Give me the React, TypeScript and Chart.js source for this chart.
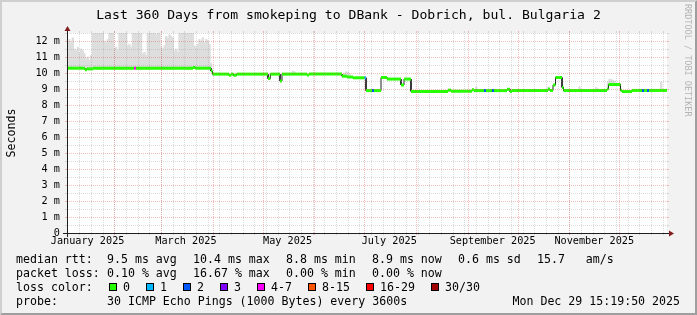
import React, { useEffect, useRef } from 'react';
import { Chart, registerables } from 'chart.js';

Chart.register(...registerables);

// ---------- canvas / text ----------
const W = 697;
const H = 315;
const MONO = 'DejaVu Sans Mono';
const TITLE = 'Last 360 Days from smokeping to DBank - Dobrich, bul. Bulgaria 2';
const Y_UNIT = 'Seconds';
const WATERMARK = 'RRDTOOL / TOBI OETIKER';

// ---------- time axis (days since graph start, Fri 3 Jan 2025 15:20) ----------
const START_MS = Date.UTC(2025, 0, 3, 15, 20);
const RANGE_DAYS = 360;
const X_LABEL_MONTHS = [0, 2, 4, 6, 8, 10];
const X_LABELS = ['January 2025', 'March 2025', 'May 2025', 'July 2025', 'September 2025', 'November 2025'];
const MAJOR_GRID_MONTHS = [1, 2, 3, 4, 5, 6, 7, 8, 9, 10, 11];
const FIRST_WEEK_LINE = [2025, 0, 11];

// ---------- y axis ----------
const Y_MAX = 12.5;
const Y_TICKS = [0, 1, 2, 3, 4, 5, 6, 7, 8, 9, 10, 11, 12];

// ---------- median rtt (ms), piecewise: segment start day, value, loss class ----------
const MEDIAN_START = [0, 10.8, 11.8, 15.6, 40.2, 41.4, 75.6, 77, 86.4, 87.3,
  97.2, 98.4, 99.9, 101.7, 120.6, 122, 127.8, 129, 144, 145.2,
  165, 168, 171.6, 178.5, 179.4, 183, 184.2, 188.4, 192, 200.4,
  202.2, 206.4, 228.6, 230.4, 243, 244.2, 250.2, 251.4, 255, 256.2,
  264, 265.8, 267, 288.6, 289.8, 291.6, 293.1, 297, 297.9, 324,
  324.9, 332.1, 333, 339, 345, 346.2, 348, 349.2];
const MEDIAN_MS = [10.30, 10.20, 10.26, 10.30, 10.30, 10.30, 10.34, 10.30, 10.12, 9.93,
  9.86, 9.93, 9.86, 9.93, 9.65, 9.93, 9.50, 9.93, 9.87, 9.93,
  9.80, 9.75, 9.70, 9.70, 8.90, 8.90, 8.90, 9.72, 9.62, 9.25,
  9.62, 8.85, 8.93, 8.86, 8.95, 8.90, 8.90, 8.90, 8.90, 8.90,
  8.98, 8.84, 8.91, 9.00, 8.91, 9.25, 9.72, 9.10, 8.91, 9.00,
  9.28, 8.92, 8.84, 8.91, 8.91, 8.91, 8.91, 8.91];
const MEDIAN_LOSS = [0, 0, 0, 0, 4, 0, 0, 0, 0, 0,
  0, 0, 0, 0, 0, 0, 0, 0, 0, 0,
  0, 0, 0, 1, 0, 2, 0, 0, 0, 0,
  0, 0, 0, 0, 0, 0, 2, 0, 2, 0,
  0, 0, 0, 0, 0, 0, 0, 0, 0, 0,
  0, 0, 0, 0, 2, 0, 2, 0];

// ---------- smoke (ms, upper edge of the ping spread), per day ----------
const SMOKE_Q1_TOP = [12.0, 12.1, 11.9, 12.2, 11.5, 11.4, 11.6, 11.3, 11.5, 11.4,
  11.2, 10.9, 11.0, 10.8, 11.1, 12.8, 13.0, 12.7, 13.0, 12.9,
  13.0, 12.8, 12.0, 11.9, 12.1, 13.0, 12.8, 13.0, 11.5, 11.6,
  11.4, 13.0, 12.9, 13.0, 12.6, 13.0, 11.7, 11.8, 11.6, 13.0,
  12.8, 13.0, 12.7, 13.0, 12.9, 11.2, 11.3, 11.1, 12.9, 13.0,
  12.6, 12.8, 13.0, 12.4, 13.0, 12.9, 11.6, 11.5, 11.7, 12.3,
  12.2, 12.4, 12.3, 12.2, 11.4, 11.5, 11.3, 13.0, 12.8, 13.0,
  12.9, 13.0, 12.7, 13.0, 12.9, 13.0, 11.7, 11.6, 11.8, 12.1,
  12.0, 12.2, 11.9, 12.1, 12.0, 11.8, 10.6];
const SMOKE_EXTRA_DAY = [135, 136, 166, 167, 168, 169, 245, 288, 307, 317, 318, 324, 325, 326, 327, 328, 356];
const SMOKE_EXTRA_TOP = [10.12, 10.08, 10.0, 10.08, 10.05, 9.95, 9.12, 9.1, 9.15, 9.1, 9.02, 9.45, 9.62, 9.6, 9.55, 9.5, 9.45];

// ---------- legend ----------
const ROW_LABELS = ['median rtt:', 'packet loss:', 'loss color:', 'probe:'];
const RTT_STATS = ['9.5 ms avg', '10.4 ms max', '8.8 ms min', '8.9 ms now', '0.6 ms sd', '15.7   am/s'];
const LOSS_STATS = ['0.10 % avg', '16.67 % max', '0.00 % min', '0.00 % now'];
const LOSS_LABELS = ['0', '1', '2', '3', '4-7', '8-15', '16-29', '30/30'];
const LOSS_COLORS = ['#26ff00', '#00b8ff', '#0059ff', '#7e00ff', '#ff00ff', '#ff5500', '#ff0000', '#a00000'];
const PROBE_TEXT = '30 ICMP Echo Pings (1000 Bytes) every 3600s';
const TIMESTAMP = 'Mon Dec 29 15:19:50 2025';

// layout of legend items (px)
const STAT_X = [107, 193, 286, 372, 458, 537];
const SWATCH_X = [109, 146, 183, 220, 257, 308, 366, 431];
const ROW_BASE = [263, 277, 291, 305];

const dayOf = (y: number, m: number, d: number) => (Date.UTC(y, m, d) - START_MS) / 86400000;

function medianAt(t: number) {
  let v = MEDIAN_MS[0];
  for (let i = 0; i < MEDIAN_START.length; i++) if (MEDIAN_START[i] <= t) v = MEDIAN_MS[i];
  return v;
}

function buildMedianPoints() {
  const pts: { x: number; y: number }[] = [];
  for (let i = 0; i < MEDIAN_START.length; i++) {
    const end = i + 1 < MEDIAN_START.length ? MEDIAN_START[i + 1] : RANGE_DAYS;
    pts.push({ x: MEDIAN_START[i], y: MEDIAN_MS[i] });
    pts.push({ x: end, y: MEDIAN_MS[i] });
  }
  return pts;
}

function buildSmoke() {
  const bars: { x: number; y: [number, number] }[] = [];
  SMOKE_Q1_TOP.forEach((top, d) => bars.push({ x: d + 0.5, y: [medianAt(d + 0.5), top] }));
  SMOKE_EXTRA_DAY.forEach((d, i) => bars.push({ x: d + 0.5, y: [medianAt(d + 0.5), SMOKE_EXTRA_TOP[i]] }));
  return bars;
}

const rrdPlugin = {
  id: 'rrdLook',
  beforeDraw(chart: any) {
    const { ctx, chartArea: a } = chart;
    ctx.save();
    ctx.fillStyle = '#f2f2f2';
    ctx.fillRect(0, 0, W, H);
    ctx.fillStyle = '#cfcfcf';
    ctx.beginPath();
    ctx.moveTo(0, H); ctx.lineTo(2, H - 2); ctx.lineTo(2, 2); ctx.lineTo(W - 2, 2); ctx.lineTo(W, 0); ctx.lineTo(0, 0);
    ctx.closePath(); ctx.fill();
    ctx.fillStyle = '#9e9e9e';
    ctx.beginPath();
    ctx.moveTo(2, H - 2); ctx.lineTo(W - 2, H - 2); ctx.lineTo(W - 2, 2); ctx.lineTo(W, 0); ctx.lineTo(W, H); ctx.lineTo(0, H);
    ctx.closePath(); ctx.fill();
    ctx.fillStyle = '#ffffff';
    ctx.fillRect(a.left, a.top, a.right - a.left, a.bottom - a.top);
    ctx.restore();
  },
  afterDatasetsDraw(chart: any) {
    const { ctx, chartArea: a, scales } = chart;
    const xs = scales.x;
    const ys = scales.y;
    const X0 = a.left, X1 = a.right, Y0 = a.bottom, Y1 = a.top;
    const px = (v: number) => Math.round(xs.getPixelForValue(v)) + 0.5;
    const py = (v: number) => Math.round(ys.getPixelForValue(v)) + 0.5;
    const MINOR = 'rgba(143,143,143,0.32)';
    const MAJOR = 'rgba(222,79,79,0.38)';
    ctx.save();
    ctx.lineWidth = 1;
    const hLine = (yy: number, color: string) => {
      ctx.strokeStyle = color;
      ctx.setLineDash([]);
      ctx.beginPath();
      ctx.moveTo(X0 - 2, yy); ctx.lineTo(X0, yy);
      ctx.moveTo(X1, yy); ctx.lineTo(X1 + 2, yy);
      ctx.stroke();
      ctx.setLineDash([1, 1]);
      ctx.beginPath(); ctx.moveTo(X0, yy); ctx.lineTo(X1, yy); ctx.stroke();
    };
    const vLine = (xx: number, color: string) => {
      ctx.strokeStyle = color;
      ctx.setLineDash([]);
      ctx.beginPath();
      ctx.moveTo(xx, Y0); ctx.lineTo(xx, Y0 + 2);
      ctx.moveTo(xx, Y1); ctx.lineTo(xx, Y1 - 2);
      ctx.stroke();
      ctx.setLineDash([1, 1]);
      ctx.beginPath(); ctx.moveTo(xx, Y0); ctx.lineTo(xx, Y1); ctx.stroke();
    };
    // minor grid
    Y_TICKS.forEach((v) => { if (v + 0.5 <= Y_MAX) hLine(py(v + 0.5), MINOR); });
    const firstWeek = dayOf(FIRST_WEEK_LINE[0], FIRST_WEEK_LINE[1], FIRST_WEEK_LINE[2]);
    for (let t = firstWeek; t < RANGE_DAYS; t += 7) vLine(px(t), MINOR);
    // major grid
    Y_TICKS.forEach((v) => { if (v > 0) hLine(py(v), MAJOR); });
    MAJOR_GRID_MONTHS.forEach((m) => {
      const t = dayOf(2025, m, 1);
      if (t > 0 && t < RANGE_DAYS) vLine(px(t), MAJOR);
    });
    // axes
    ctx.setLineDash([]);
    ctx.strokeStyle = '#1f1f1f';
    ctx.beginPath();
    ctx.moveTo(X0 - 4, Y0 + 0.5); ctx.lineTo(X1 + 4, Y0 + 0.5);
    ctx.moveTo(X0 + 0.5, Y0 + 4); ctx.lineTo(X0 + 0.5, Y1 - 4);
    ctx.stroke();
    ctx.fillStyle = '#801f1f';
    ctx.beginPath();
    ctx.moveTo(X1 + 2, Y0 - 2.5); ctx.lineTo(X1 + 2, Y0 + 3.5); ctx.lineTo(X1 + 7, Y0 + 0.5);
    ctx.closePath(); ctx.fill();
    ctx.beginPath();
    ctx.moveTo(X0 - 2.5, Y1 - 2); ctx.lineTo(X0 + 3.5, Y1 - 2); ctx.lineTo(X0 + 0.5, Y1 - 7);
    ctx.closePath(); ctx.fill();
    ctx.restore();
  },
  afterDraw(chart: any) {
    const { ctx, chartArea: a } = chart;
    ctx.save();
    ctx.fillStyle = '#000';
    // title
    ctx.font = `13.1px "${MONO}"`;
    ctx.textAlign = 'center';
    ctx.textBaseline = 'alphabetic';
    ctx.fillText(TITLE, W / 2, 19);
    // unit label
    ctx.font = `11.6px "${MONO}"`;
    ctx.save();
    ctx.translate(15, (a.top + a.bottom) / 2);
    ctx.rotate(-Math.PI / 2);
    ctx.fillText(Y_UNIT, 0, 0);
    ctx.restore();
    // watermark
    ctx.save();
    ctx.fillStyle = '#b4b4b4';
    ctx.font = `8.5px "${MONO}"`;
    ctx.translate(685, 4);
    ctx.rotate(Math.PI / 2);
    ctx.textAlign = 'left';
    ctx.fillText(WATERMARK, 0, 0);
    ctx.restore();
    // legend
    ctx.font = `11.6px "${MONO}"`;
    ctx.textAlign = 'left';
    ctx.fillStyle = '#000';
    ROW_LABELS.forEach((s, i) => ctx.fillText(s, 16, ROW_BASE[i]));
    RTT_STATS.forEach((s, i) => ctx.fillText(s, STAT_X[i], ROW_BASE[0]));
    LOSS_STATS.forEach((s, i) => ctx.fillText(s, STAT_X[i], ROW_BASE[1]));
    LOSS_LABELS.forEach((s, i) => {
      const bx = SWATCH_X[i];
      const by = ROW_BASE[2] - 8;
      ctx.fillStyle = LOSS_COLORS[i];
      ctx.fillRect(bx, by, 8, 8);
      ctx.strokeStyle = '#000';
      ctx.lineWidth = 1;
      ctx.strokeRect(bx + 0.5, by + 0.5, 7, 7);
      ctx.fillStyle = '#000';
      ctx.fillText(s, bx + 14, ROW_BASE[2]);
    });
    ctx.fillText(PROBE_TEXT, STAT_X[0], ROW_BASE[3]);
    ctx.textAlign = 'right';
    ctx.fillText(TIMESTAMP, 680, ROW_BASE[3]);
    ctx.restore();
  },
};

export default function App() {
  const ref = useRef<HTMLCanvasElement>(null);
  useEffect(() => {
    const canvas = ref.current;
    if (!canvas) return;
    const medianPts = buildMedianPoints();
    const labelTicks = X_LABEL_MONTHS.map((m) => dayOf(2025, m, 1) + 15);
    const chart = new Chart(canvas, {
      type: 'line',
      data: {
        datasets: [
          {
            type: 'line',
            label: 'median (loss colored)',
            data: medianPts,
            borderWidth: 3,
            pointRadius: 0,
            borderCapStyle: 'butt',
            borderColor: LOSS_COLORS[0],
            segment: {
              borderColor: (c: any) =>
                c.p0.parsed.x === c.p1.parsed.x
                  ? 'rgba(0,0,0,0)'
                  : LOSS_COLORS[MEDIAN_LOSS[Math.floor(c.p0DataIndex / 2)]],
            },
            order: 1,
          } as any,
          {
            type: 'line',
            label: 'median',
            data: medianPts,
            borderWidth: 1,
            pointRadius: 0,
            borderColor: '#202020',
            order: 2,
          } as any,
          {
            type: 'bar',
            label: 'smoke',
            data: buildSmoke(),
            backgroundColor: '#dedede',
            borderWidth: 0,
            barPercentage: 1,
            categoryPercentage: 1,
            clip: 0,
            order: 3,
          } as any,
        ],
      },
      options: {
        animation: false,
        responsive: false,
        devicePixelRatio: 1,
        events: [],
        layout: { padding: { left: 0, top: 33, right: W - 667, bottom: 0 } },
        plugins: { legend: { display: false }, tooltip: { enabled: false }, title: { display: false } },
        scales: {
          x: {
            type: 'linear',
            min: 0,
            max: RANGE_DAYS,
            offset: false,
            grid: { display: false, drawTicks: false },
            border: { display: false },
            afterFit: (s: any) => { s.height = H - 233; },
            afterBuildTicks: (s: any) => { s.ticks = labelTicks.map((v) => ({ value: v })); },
            ticks: {
              autoSkip: false,
              maxRotation: 0,
              minRotation: 0,
              padding: 2,
              color: '#000',
              font: { family: MONO, size: 10.2 },
              callback: (_v: any, i: number) => X_LABELS[i],
            },
          },
          y: {
            type: 'linear',
            min: 0,
            max: Y_MAX,
            grid: { display: false, drawTicks: false },
            border: { display: false },
            afterFit: (s: any) => { s.width = 67; },
            afterBuildTicks: (s: any) => { s.ticks = Y_TICKS.map((v) => ({ value: v })); },
            ticks: {
              padding: 7,
              color: '#000',
              font: { family: MONO, size: 10.2 },
              callback: (v: any) => (Number(v) === 0 ? '0' : `${v} m`),
            },
          },
        },
      } as any,
      plugins: [rrdPlugin],
    });
    return () => chart.destroy();
  }, []);
  return (
    <div style={{ position: 'fixed', left: 0, top: 0, width: W, height: H }}>
      <canvas ref={ref} width={W} height={H} style={{ display: 'block', width: W, height: H }} />
    </div>
  );
}
